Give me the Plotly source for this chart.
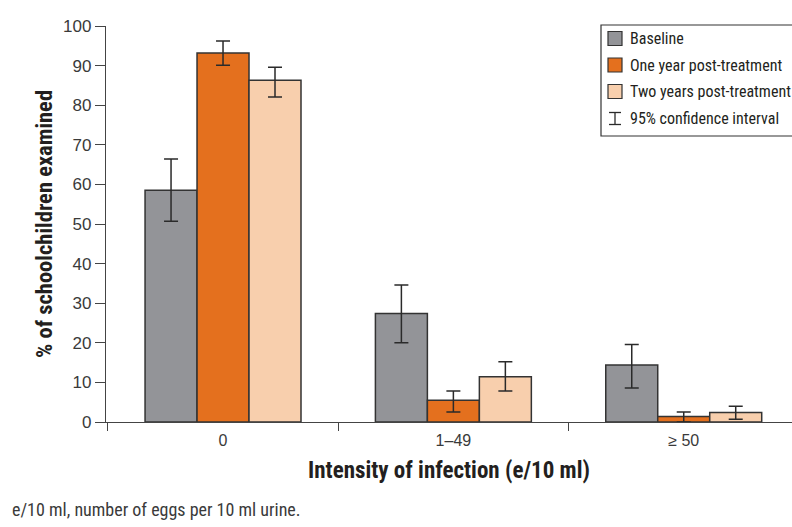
import plotly.graph_objects as go

# ---- data ----
categories = ["0", "1–49", "≥ 50"]
baseline = [58.5, 27.4, 14.4]
baseline_lo = [50.7, 20.0, 8.6]
baseline_hi = [66.4, 34.6, 19.6]
one_year = [93.2, 5.5, 1.4]
one_year_lo = [90.1, 2.5, 0.0]
one_year_hi = [96.2, 7.8, 2.5]
two_year = [86.3, 11.4, 2.4]
two_year_lo = [82.1, 7.8, 0.7]
two_year_hi = [89.6, 15.2, 4.0]
series_names = ["Baseline", "One year post-treatment", "Two years post-treatment"]
ci_label = "95% confidence interval"
y_ticks = [0, 10, 20, 30, 40, 50, 60, 70, 80, 90, 100]

# ---- style ----
W, H = 792, 527
ML, MR, MT, MB = 106, 0, 26, 105
colors = ["#939498", "#e4701e", "#f8cfad"]
edge = "#333333"
err_col = "#2a2a2a"
narrow = "Liberation Sans Narrow, Roboto Condensed, DejaVu Sans Condensed, Arial, sans-serif"
sans = "Liberation Sans, Arial, sans-serif"

PW = W - ML - MR
PH = H - MT - MB


def px2x(px):
    return (px - ML) / PW


def py2y(py):
    return (H - MB - py) / PH


fig = go.Figure()
for name, vals, lo, hi, col in [
    (series_names[0], baseline, baseline_lo, baseline_hi, colors[0]),
    (series_names[1], one_year, one_year_lo, one_year_hi, colors[1]),
    (series_names[2], two_year, two_year_lo, two_year_hi, colors[2]),
]:
    fig.add_trace(go.Bar(
        x=categories, y=vals, name=name,
        marker=dict(color=col, line=dict(color=edge, width=1.5)),
        error_y=dict(type="data", symmetric=False,
                     array=[h - v for h, v in zip(hi, vals)],
                     arrayminus=[v - l for l, v in zip(lo, vals)],
                     color=err_col, thickness=1.5, width=7),
        showlegend=False,
    ))

fig.update_layout(
    width=W, height=H,
    margin=dict(l=ML, r=MR, t=MT, b=MB),
    paper_bgcolor="white", plot_bgcolor="white",
    barmode="group", bargap=0.323, bargroupgap=0,
    showlegend=False,
    font=dict(family=sans, color="#3a3a3a"),
)
fig.update_xaxes(
    type="category", range=[-0.508, 2.47],
    tickson="boundaries", ticks="outside", ticklen=8, tickwidth=1.2, tickcolor="#444",
    showline=True, linecolor="#444", linewidth=1.3,
    showgrid=False, zeroline=False,
    tickfont=dict(family=sans, size=16, color="#3a3a3a"),
    ticklabelstandoff=4,
    title=dict(text="<b>Intensity of infection (e/10 ml)</b>",
               font=dict(family=narrow, size=23, color="#231f20"), standoff=13),
)
fig.update_yaxes(
    range=[0, 100], tickvals=y_ticks,
    ticks="outside", ticklen=10, tickwidth=1.2, tickcolor="#444",
    showline=True, linecolor="#444", linewidth=1.3,
    showgrid=False, zeroline=False,
    tickfont=dict(family=sans, size=17, color="#3a3a3a"),
    title=dict(text="<b>% of schoolchildren examined</b>",
               font=dict(family=narrow, size=22.5, color="#231f20"), standoff=4),
)

# ---- custom legend (box, swatches, labels) ----
shapes = []
annots = []
shapes.append(dict(type="rect", xref="paper", yref="paper",
                   x0=px2x(601), x1=px2x(800), y0=py2y(136), y1=py2y(25),
                   line=dict(color="#333", width=1.2), fillcolor="rgba(0,0,0,0)", layer="above"))
row_y = [38.5, 65, 91.5, 118.5]
for i, (name, col) in enumerate(zip(series_names, colors)):
    cy = row_y[i]
    shapes.append(dict(type="rect", xref="paper", yref="paper",
                       x0=px2x(608), x1=px2x(622), y0=py2y(cy + 7), y1=py2y(cy - 7),
                       line=dict(color=edge, width=1.2), fillcolor=col, layer="above"))
    annots.append(dict(xref="paper", yref="paper", x=px2x(628), y=py2y(cy),
                       xanchor="left", yanchor="middle", showarrow=False, text=name,
                       font=dict(family=narrow, size=16, color="#231f20")))
cy = row_y[3]
for seg in [(615, cy - 6, 615, cy + 6), (609, cy - 6, 621, cy - 6), (609, cy + 6, 621, cy + 6)]:
    shapes.append(dict(type="line", xref="paper", yref="paper",
                       x0=px2x(seg[0]), y0=py2y(seg[1]), x1=px2x(seg[2]), y1=py2y(seg[3]),
                       line=dict(color=err_col, width=1.3), layer="above"))
annots.append(dict(xref="paper", yref="paper", x=px2x(628), y=py2y(cy),
                   xanchor="left", yanchor="middle", showarrow=False, text=ci_label,
                   font=dict(family=narrow, size=16, color="#231f20")))

# footnote
annots.append(dict(xref="paper", yref="paper", x=px2x(10), y=py2y(509),
                   xanchor="left", yanchor="middle", showarrow=False,
                   text="e/10 ml, number of eggs per 10 ml urine.",
                   font=dict(family=narrow, size=18, color="#3a3a3a")))

fig.update_layout(shapes=shapes, annotations=annots)
fig.write_html("out.html",
               config={"displayModeBar": False},
               post_script="document.body.style.margin='0';document.body.style.overflow='hidden';")
